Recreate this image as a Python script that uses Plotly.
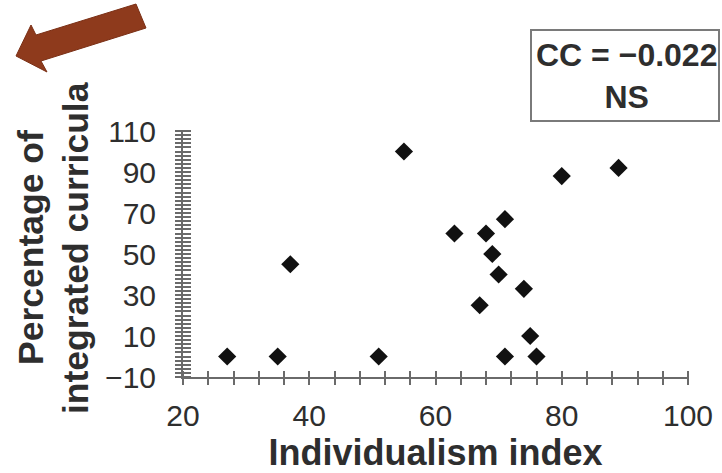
import plotly.graph_objects as go

# Data
individualism = [27, 35, 37, 51, 55, 63, 67, 68, 69, 70, 71, 71, 74, 75, 76, 80, 89]
integrated_pct = [0, 0, 45, 0, 100, 60, 25, 60, 50, 40, 67, 0, 33, 10, 0, 88, 92]
x_ticks = [20, 40, 60, 80, 100]
y_ticks = [-10, 10, 30, 50, 70, 90, 110]
x_title = "Individualism index"
y_title_lines = ["Percentage of", "integrated curricula"]
stat_text = "CC = \u22120.022<br>NS"

W, H = 722, 473
L, R, T, B = 183, 34, 131, 96
PW, PH = W - L - R, H - T - B

def px2paper(px, py):
    return (px - L) / PW, 1 - (py - T) / PH

FONT = "Liberation Sans, Arial, sans-serif"
TXT = "#2e2e2e"
axcol = "#6a6a6a"
CLEAR = "rgba(0,0,0,0)"

fig = go.Figure()
fig.add_trace(go.Scatter(
    x=individualism, y=integrated_pct, mode="markers",
    marker=dict(symbol="diamond", size=14, color="#111111"),
    showlegend=False, hoverinfo="x+y"))
# invisible trace bound to the tick-only overlay axes
fig.add_trace(go.Scatter(
    x=individualism, y=integrated_pct, mode="markers", xaxis="x2", yaxis="y2",
    marker=dict(opacity=0), showlegend=False, hoverinfo="skip"))

XT_HALF, YT_HALF = 7, 8

fig.update_layout(
    width=W, height=H, margin=dict(l=L, r=R, t=T, b=B, autoexpand=False),
    paper_bgcolor="white", plot_bgcolor="white",
    font=dict(family=FONT, color=TXT),
    xaxis=dict(range=[20, 100], tickvals=x_ticks, ticks="", showline=True,
               linecolor=axcol, linewidth=2, showgrid=False, zeroline=False,
               automargin=False, ticklabelstandoff=XT_HALF + 4,
               tickfont=dict(size=30, color=TXT),
               title=dict(text="<b>" + x_title + "</b>", font=dict(size=36, color=TXT), standoff=26)),
    yaxis=dict(range=[-10, 110], tickvals=y_ticks, ticks="outside", ticklen=19,
               tickcolor=CLEAR, showline=True,
               linecolor=axcol, linewidth=2, showgrid=False, zeroline=False,
               automargin=False, tickfont=dict(size=30, color=TXT)),
    xaxis2=dict(overlaying="x", anchor="free", position=XT_HALF / PH, range=[20, 100],
                tickvals=x_ticks, ticks="outside", ticklen=2 * XT_HALF, tickwidth=1.5,
                tickcolor=axcol, showticklabels=False, showgrid=False, zeroline=False,
                showline=False, automargin=False,
                minor=dict(dtick=4, tick0=20, ticks="outside", ticklen=2 * XT_HALF,
                           tickwidth=1.5, tickcolor=axcol, showgrid=False)),
    yaxis2=dict(overlaying="y", anchor="free", position=YT_HALF / PW, range=[-10, 110],
                tickvals=y_ticks, ticks="outside", ticklen=2 * YT_HALF, tickwidth=1.5,
                tickcolor=axcol, showticklabels=False, showgrid=False, zeroline=False,
                showline=False, automargin=False,
                minor=dict(dtick=2, tick0=-10, ticks="outside", ticklen=2 * YT_HALF,
                           tickwidth=1.5, tickcolor=axcol, showgrid=False)),
)

# y-axis title (two rotated lines)
for line, cxp in zip(y_title_lines, [31, 76]):
    ax_, ay_ = px2paper(cxp, 248)
    fig.add_annotation(xref="paper", yref="paper", x=ax_, y=ay_, text="<b>" + line + "</b>",
                       textangle=-90, showarrow=False, font=dict(size=35.5, color=TXT),
                       xanchor="center", yanchor="middle")

# statistics box
bx0, by0 = px2paper(531, 30)
bx1, by1 = px2paper(719, 121)
fig.add_shape(type="rect", xref="paper", yref="paper", x0=bx0, y0=by1, x1=bx1, y1=by0,
              line=dict(color="#7a7a7a", width=2), fillcolor="white", layer="above")
cx, cy = px2paper(626, 76)
fig.add_annotation(xref="paper", yref="paper", x=cx, y=cy, text="<b>" + stat_text + "</b>",
                   showarrow=False, font=dict(size=32, color=TXT), align="center",
                   xanchor="center", yanchor="middle")

# decorative red block arrow (pixel outline of the pointer)
arrow_px = [(16, 56), (31, 25), (36, 35), (136, 4), (146, 28), (41, 61), (47, 72)]
path = ""
for i, (px, py) in enumerate(arrow_px):
    x, y = px2paper(px, py)
    path += ("M" if i == 0 else "L") + f"{x:.5f},{y:.5f} "
path += "Z"
fig.add_shape(type="path", xref="paper", yref="paper", path=path,
              fillcolor="#8e3a1c", line=dict(color="#7a2f15", width=1), layer="above")

fig.write_html("out.html")
